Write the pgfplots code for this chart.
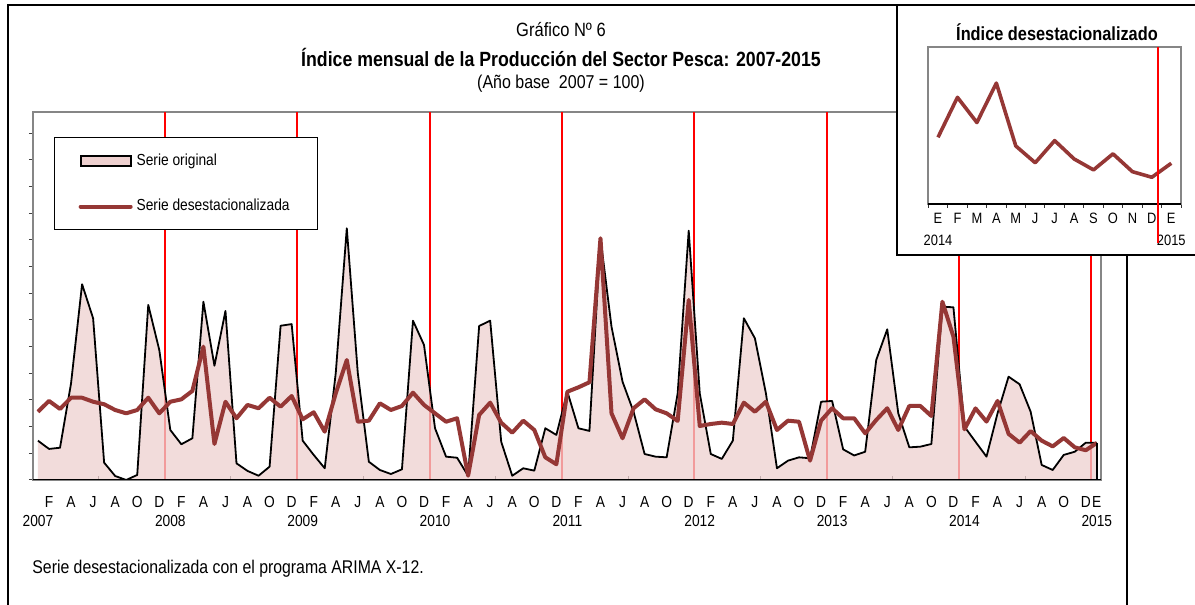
\documentclass[border=0pt]{standalone}
\usepackage{fontspec}
\setmainfont{Liberation Sans}[FakeStretch=0.86]
\usepackage{pgfplots}
\pgfplotsset{compat=1.18}
\usepackage{pgfplotstable}

\definecolor{serbrown}{RGB}{149,55,53}
\definecolor{pinkfill}{RGB}{238,208,207}
\definecolor{axgray}{RGB}{134,134,134}

\newcommand{\M}[1]{\strut #1}
\newcommand{\Y}[1]{\strut\\#1}

\pgfplotstableread{
i orig desest
0 29.5 51.2
1 23.3 59.3
2 24.2 53.3
3 72.5 61.7
4 146.8 61.7
5 121.3 58.7
6 13.0 56.8
7 3.0 52.5
8 0.0 50.0
9 3.8 52.5
10 131.3 61.7
11 97.5 50.0
12 37.5 58.7
13 26.8 60.5
14 31.3 66.8
15 133.7 100.0
16 85.7 27.0
17 126.8 58.7
18 12.5 46.3
19 6.8 56.3
20 3.2 53.8
21 10.0 61.7
22 115.7 55.0
23 116.9 63.0
24 29.5 45.5
25 18.8 50.8
26 8.8 36.2
27 80.3 65.0
28 188.8 90.0
29 80.0 43.7
30 13.7 44.5
31 7.5 57.5
32 4.5 52.5
33 8.0 55.5
34 119.5 65.5
35 101.3 56.3
36 38.8 50.0
37 17.5 43.7
38 16.7 46.3
39 3.2 3.2
40 115.5 48.8
41 119.5 58.0
42 28.7 43.0
43 3.2 35.5
44 8.8 44.5
45 7.0 37.5
46 38.8 17.0
47 33.8 11.8
48 66.2 66.2
49 38.8 69.5
50 36.8 73.3
51 181.3 181.3
52 115.0 50.0
53 73.7 31.3
54 51.2 53.8
55 19.5 60.5
56 17.5 53.0
57 17.0 50.0
58 65.0 44.3
59 187.0 135.0
60 65.0 40.5
61 19.5 42.0
62 15.8 43.0
63 29.5 42.0
64 121.3 58.0
65 106.3 51.2
66 65.0 58.7
67 8.8 37.5
68 14.5 44.5
69 17.0 43.7
70 16.3 14.5
71 58.7 44.5
72 59.3 53.8
73 23.0 46.3
74 18.4 46.3
75 21.2 35.0
76 90.0 45.0
77 113.0 53.8
78 50.0 37.5
79 24.5 55.5
80 25.0 55.5
81 27.0 48.0
82 130.0 133.7
83 129.5 107.5
84 40.0 38.0
85 28.7 53.7
86 17.5 43.8
87 50.0 59.3
88 77.5 34.6
89 71.8 28.0
90 51.2 36.7
91 11.3 29.5
92 7.5 25.2
93 18.8 31.5
94 21.2 24.5
95 28.0 22.3
96 28.0 27.8
}\datatable

\pgfplotstableread{
j v
0 38.0
1 53.7
2 43.8
3 59.3
4 34.6
5 28.0
6 36.7
7 29.5
8 25.2
9 31.5
10 24.5
11 22.3
12 27.8
}\insettable

\begin{document}
\begin{tikzpicture}
\useasboundingbox (0,0) rectangle (597.5pt,302.5pt);
% outer frame
\draw[black, line width=1pt] (4pt,0pt) -- (4pt,300pt) -- (448.5pt,300pt);
\draw[black, line width=1pt] (563.5pt,0pt) -- (563.5pt,175pt);

\begin{axis}[
  at={(16.5pt,62.5pt)}, anchor=south west,
  scale only axis, width=534pt, height=184pt,
  xmin=-0.45, xmax=96.38, ymin=0, ymax=276,
  axis line style={axgray, line width=0.9pt},
  ytick={0,20,...,260}, yticklabels={}, ytick pos=left,
  ytick style={black!75, line width=0.5pt},
  tick align=outside, major tick length=2pt, minor tick length=2pt,
  xtick={0,1,3,5,7,9,11,12,13,15,17,19,21,23,24,25,27,29,31,33,35,36,37,39,41,43,45,47,48,49,51,53,55,57,59,60,61,63,65,67,69,71,72,73,75,77,79,81,83,84,85,87,89,91,93,95,96},
  xticklabels={
    {\Y{2007}},{\M{F}},{\M{A}},{\M{J}},{\M{A}},{\M{O}},{\M{D}},
    {\Y{2008}},{\M{F}},{\M{A}},{\M{J}},{\M{A}},{\M{O}},{\M{D}},
    {\Y{2009}},{\M{F}},{\M{A}},{\M{J}},{\M{A}},{\M{O}},{\M{D}},
    {\Y{2010}},{\M{F}},{\M{A}},{\M{J}},{\M{A}},{\M{O}},{\M{D}},
    {\Y{2011}},{\M{F}},{\M{A}},{\M{J}},{\M{A}},{\M{O}},{\M{D}},
    {\Y{2012}},{\M{F}},{\M{A}},{\M{J}},{\M{A}},{\M{O}},{\M{D}},
    {\Y{2013}},{\M{F}},{\M{A}},{\M{J}},{\M{A}},{\M{O}},{\M{D}},
    {\Y{2014}},{\M{F}},{\M{A}},{\M{J}},{\M{A}},{\M{O}},{\M{D}},
    {\strut E\\2015}},
  xtick pos=bottom,
  major x tick style={draw=none},
  minor xtick={5.5,17.5,...,89.5},
  minor x tick style={black!75, line width=0.5pt, yshift=2pt},
  xticklabel style={align=center, yshift=-1.8pt, font=\fontsize{8}{9.5}\selectfont},
  extra x ticks={11.5,23.5,...,95.5},
  extra x tick labels={},
  extra x tick style={grid=major, major grid style={red, line width=1pt}, major tick length=0pt},
  legend style={at={(0.0197,0.932)}, anchor=north west, draw=black, line width=0.6pt,
    fill=white, inner xsep=12pt, inner ysep=6pt, row sep=11.5pt,
    font=\fontsize{8}{9.6}\selectfont},
  legend cell align=left,
]
\addplot[draw=none, fill=pinkfill, fill opacity=0.75,
  legend image code/.code={\draw[fill=pinkfill, draw=black, line width=1pt, fill opacity=1] (2.5pt,-2.3pt) rectangle (27.5pt,2.3pt);}]
  table[x=i, y=orig]{\datatable} \closedcycle;
\addlegendentry{Serie original}
\addplot[black, line width=0.9pt, line join=round, forget plot] table[x=i, y=orig]{\datatable};
\addplot[serbrown, line width=2pt, line join=round,
  legend image code/.code={\draw[serbrown, line width=2pt, line cap=round] (2.5pt,0pt) -- (27.5pt,0pt);}]
  table[x=i, y=desest]{\datatable};
\addlegendentry{Serie desestacionalizada}
\draw[black, line width=0.9pt] (axis cs:96,28.0) -- (axis cs:96,0);
\draw[black, line width=1pt] (rel axis cs:0,0) -- (rel axis cs:1,0);
\end{axis}

% titles
\node[font=\fontsize{9.6}{11}\selectfont] at (280.5pt,287.5pt) {Gráfico Nº 6};
\node[font=\bfseries\fontsize{10.3}{12}\selectfont] at (280.5pt,274pt) {Índice mensual de la Producción del Sector Pesca: 2007-2015};
\node[font=\fontsize{9.3}{11}\selectfont] at (280.5pt,260.5pt) {(Año base\ \ 2007 = 100)};
\node[anchor=base west, inner sep=0pt, font=\fontsize{9.2}{11}\selectfont] at (16pt,15.5pt) {Serie desestacionalizada con el programa ARIMA X-12.};

% inset
\draw[black, line width=1pt, fill=white] (448.5pt,175pt) rectangle (600pt,299.8pt);
\node[font=\bfseries\fontsize{9.5}{11}\selectfont] at (528.5pt,286.5pt) {Índice desestacionalizado};
\begin{axis}[
  at={(464.15pt,200.5pt)}, anchor=south west,
  scale only axis, width=126.35pt, height=78.65pt,
  xmin=-0.5, xmax=12.5, ymin=11.8, ymax=73.6,
  axis line style={axgray, line width=0.9pt},
  ytick=\empty,
  xtick={0,...,12},
  xticklabels={{\strut E\\2014},{\M{F}},{\M{M}},{\M{A}},{\M{M}},{\M{J}},{\M{J}},{\M{A}},{\M{S}},{\M{O}},{\M{N}},{\M{D}},{\strut E\\2015}},
  xtick pos=bottom,
  major x tick style={draw=none},
  minor xtick={-0.5,0.5,...,12.5},
  minor x tick style={black!80, line width=0.5pt},
  tick align=outside, minor tick length=2pt, major tick length=2pt,
  xticklabel style={align=center, yshift=3.3pt, font=\fontsize{7.5}{10.75}\selectfont},
  clip=false,
]
\addplot[serbrown, line width=1.8pt, line join=round] table[x=j, y=v]{\insettable};
\draw[black, line width=0.9pt] (rel axis cs:0,0) -- (rel axis cs:1,0);
\draw[red, line width=0.9pt] (axis cs:11.3,73.6) -- ([yshift=-19.5pt]axis cs:11.3,11.8);
\end{axis}
\end{tikzpicture}
\end{document}
